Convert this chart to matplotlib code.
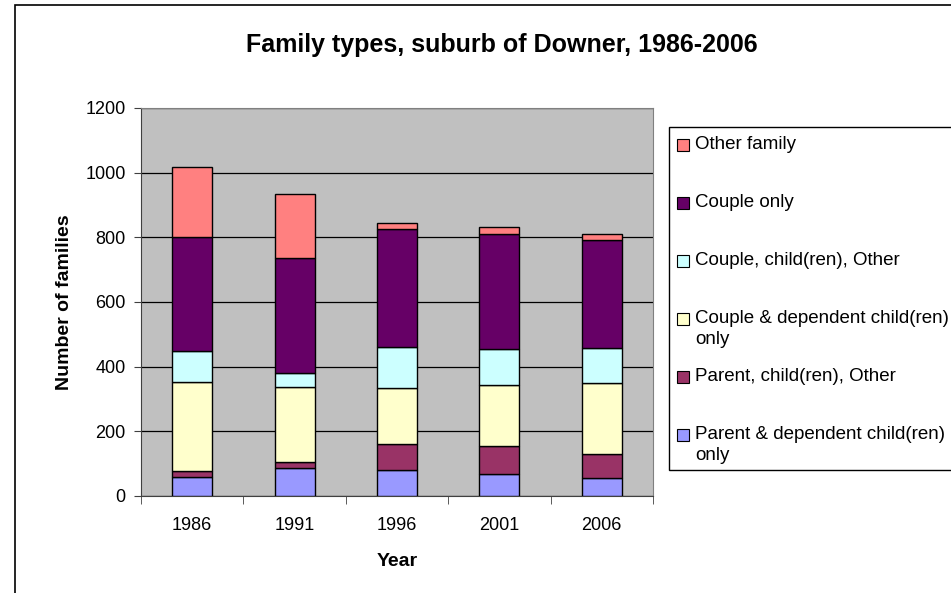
import numpy as np
import matplotlib
matplotlib.use("Agg")
import matplotlib.pyplot as plt
from matplotlib.patches import Rectangle

plt.rcParams['font.family'] = ['Liberation Sans', 'DejaVu Sans']

years = ['1986', '1991', '1996', '2001', '2006']

# stacked from the bottom up
series = [
    'Parent & dependent child(ren)\nonly',
    'Parent, child(ren), Other',
    'Couple & dependent child(ren)\nonly',
    'Couple, child(ren), Other',
    'Couple only',
    'Other family',
]
parent_dep = [58, 86, 80, 67, 57]
parent_other = [19, 20, 80, 88, 73]
couple_dep = [275, 232, 173, 188, 220]
couple_other = [95, 43, 129, 111, 109]
couple_only = [353, 356, 363, 356, 332]
other_family = [218, 198, 20, 21, 20]

values = [parent_dep, parent_other, couple_dep, couple_other, couple_only, other_family]
colors = ['#9999FF', '#993366', '#FFFFCC', '#CCFFFF', '#660066', '#FF8080']

fig = plt.figure(figsize=(9.51, 5.93), dpi=100)
W, H = 951, 593

# chart area border (runs off the right and bottom edges)
fig.patches.append(Rectangle((15 / W, -0.1), 1.2, (593 - 5) / H + 0.1,
                             transform=fig.transFigure, fill=False,
                             edgecolor='black', linewidth=1.2))

ax = fig.add_axes([141 / W, (593 - 496) / H, 512 / W, 388 / H])
ax.set_facecolor('#C0C0C0')

x = np.arange(len(years))
bottom = np.zeros(len(years))
for name, vals, col in zip(series, values, colors):
    ax.bar(x, vals, width=0.39, bottom=bottom, color=col,
           edgecolor='black', linewidth=1.0, zorder=3)
    bottom += np.array(vals)

ax.set_xlim(-0.5, len(years) - 0.5)
ax.set_ylim(0, 1200)
ax.set_yticks(np.arange(0, 1201, 200))
ax.yaxis.grid(True, color='black', linewidth=0.9, zorder=1)
ax.set_axisbelow(True)

ax.set_xticks(x)
ax.set_xticklabels(years, fontsize=13)
ax.tick_params(axis='x', length=0, pad=15)
ax.set_xticks(np.arange(-0.5, len(years)), minor=True)
ax.tick_params(axis='x', which='minor', length=6, color='#404040')
ax.tick_params(axis='y', labelsize=13, length=5, color='#404040', pad=6)

for s in ['left', 'bottom']:
    ax.spines[s].set_color('#404040')
for s in ['top', 'right']:
    ax.spines[s].set_color('#808080')

ax.set_xlabel('Year', fontsize=14, fontweight='bold', labelpad=14)
ax.set_ylabel('Number of families', fontsize=14, fontweight='bold', labelpad=9)

fig.text(502 / W, 1 - 45 / H, 'Family types, suburb of Downer, 1986-2006',
         ha='center', va='center', fontsize=18, fontweight='bold')

# legend box (runs off the right edge)
fig.patches.append(Rectangle((669 / W, 1 - 470 / H), 0.5, (470 - 127) / H,
                             transform=fig.transFigure, facecolor='white',
                             edgecolor='black', linewidth=1.0))
for i, (name, col) in enumerate(zip(series[::-1], colors[::-1])):
    y = 145 + 58 * i
    fig.patches.append(Rectangle((677 / W, 1 - (y + 6) / H), 12 / W, 12 / H,
                                 transform=fig.transFigure, facecolor=col,
                                 edgecolor='black', linewidth=0.8))
    fig.text(695 / W, 1 - (y - 9) / H, name, ha='left', va='top',
             fontsize=13.5, linespacing=1.28)

fig.savefig('out.png', dpi=100)
